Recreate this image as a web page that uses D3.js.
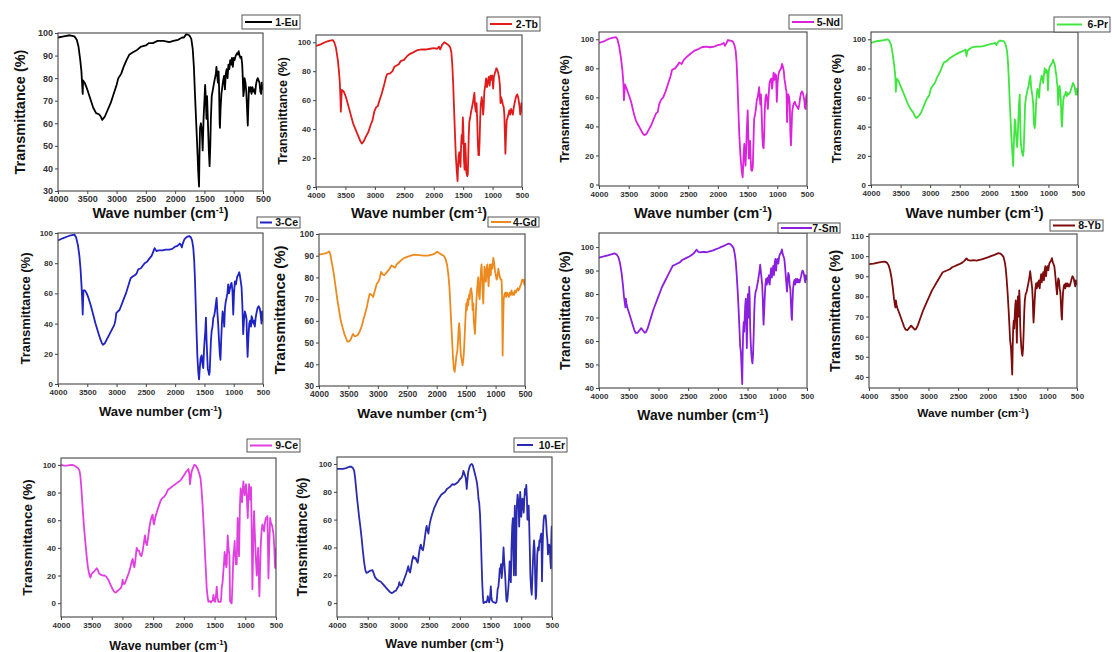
<!DOCTYPE html>
<html>
<head>
<meta charset="utf-8">
<script src="https://d3js.org/d3.v7.min.js"></script>
<style>
body { margin: 0; background: #fff; }
svg { display: block; font-family: "Liberation Sans", Arial, sans-serif; }
</style>
</head>
<body>
<div id="chart"></div>
<script>
// spectra: [wave number (cm-1), transmittance (%)]
var euData = [[4000,98],[3900,98.5],[3800,99],[3720,98.5],[3680,97],[3650,94],[3620,88],[3600,83],[3585,76],[3578,73],[3572,79],[3545,78],[3500,75],[3450,71],[3400,67],[3350,64.5],[3300,64],[3270,63],[3245,61.5],[3200,63],[3150,66],[3100,69],[3050,73],[3000,77],[2970,80],[2920,82],[2880,85],[2830,88],[2780,90.5],[2720,91.5],[2650,92.5],[2580,94],[2500,94.5],[2450,95.5],[2380,95.5],[2300,96.5],[2200,96.5],[2100,96],[2030,96.5],[1950,97],[1880,98],[1850,98],[1810,99.5],[1760,99],[1725,97.5],[1700,93],[1680,85],[1660,72],[1640,60],[1620,48],[1605,38],[1592,32],[1585,45],[1575,58],[1560,60],[1545,57],[1530,48],[1515,62],[1500,70],[1488,77],[1475,70],[1465,62],[1455,72],[1440,60],[1425,48],[1412,41],[1400,50],[1390,62],[1375,72],[1355,75],[1335,78],[1320,80],[1305,82],[1295,85],[1285,82],[1270,78],[1258,83],[1250,76],[1240,60],[1235,58],[1225,66],[1210,73],[1195,76],[1180,79],[1165,81],[1150,75],[1135,82],[1120,84],[1105,80],[1090,86],[1075,84],[1060,88],[1045,86],[1030,89],[1015,85],[1000,89],[985,88],[965,90],[945,91],[930,90.5],[915,92],[900,90],[885,89],[870,89.5],[855,86],[845,80],[835,72],[825,74],[815,80],[800,78],[785,74],[770,65],[760,59],[750,68],[740,76],[725,74],[710,76],[695,73],[680,76],[665,74],[650,75],[635,73],[620,77],[605,79],[590,80],[575,79],[560,78],[545,74],[530,73],[520,78],[510,75],[500,76]];

var tbData = [[4000,97.5],[3920,98.5],[3850,100],[3780,101],[3715,101.5],[3690,100],[3660,96],[3630,88],[3610,80],[3595,72],[3585,62],[3578,52],[3570,60],[3562,67],[3530,66],[3490,62],[3450,56],[3410,50],[3370,44],[3330,40],[3290,36],[3250,32],[3222,30],[3190,31.5],[3150,35],[3110,38],[3070,43],[3040,46],[3010,52],[2980,55],[2950,56],[2920,60],[2880,65],[2840,71],[2810,76],[2790,78],[2740,78.5],[2700,80],[2670,83],[2630,84],[2590,85],[2560,87],[2500,88],[2450,90.5],[2400,92],[2350,93],[2280,94.5],[2200,95],[2120,95],[2060,95.5],[2000,96],[1940,95.5],[1910,97],[1890,95],[1860,98],[1820,100],[1780,99],[1750,98],[1720,96.5],[1700,93],[1685,85],[1670,72],[1655,55],[1640,38],[1625,22],[1610,12],[1595,4],[1585,15],[1575,22],[1565,24],[1555,18],[1545,14],[1535,28],[1525,36],[1515,30],[1505,48],[1495,38],[1485,18],[1475,12],[1465,30],[1455,22],[1445,10],[1430,7.5],[1420,9],[1405,35],[1395,45],[1380,48],[1365,52],[1350,55],[1335,58],[1320,62],[1308,65],[1298,56],[1285,52],[1272,58],[1260,45],[1250,30],[1240,22],[1230,22],[1220,32],[1210,48],[1200,57],[1185,62],[1172,58],[1160,50],[1150,56],[1140,66],[1125,70],[1110,75],[1095,69],[1080,73],[1065,76],[1050,70],[1035,77],[1020,74],[1005,77],[990,68],[978,76],[965,78],[950,80],[935,82],[920,81],[905,79],[890,76],[875,70],[865,58],[855,62],[840,60],[825,57],[810,55],[800,50],[790,35],[782,23],[772,35],[760,46],[745,48],[730,50],[715,53],[700,50],[685,54],[670,52],[655,50],[640,55],[625,58],[610,61],[595,63],[580,64],[565,62],[550,58],[540,55],[530,50],[520,52],[510,58],[500,52]];

var ndData = [[4000,97.5],[3920,98.5],[3850,100],[3780,101],[3715,101.5],[3690,100],[3660,95],[3630,87],[3605,78],[3590,70],[3580,58],[3572,63],[3565,69],[3535,66],[3500,62],[3460,57],[3420,50],[3380,44],[3340,41],[3300,38],[3260,35],[3236,34],[3200,35],[3160,38],[3120,41],[3080,45],[3040,49],[3010,50],[2990,55],[2960,58],[2920,60],[2880,64],[2840,69],[2800,74],[2770,79],[2720,80],[2680,82],[2650,84],[2610,83],[2570,86],[2520,88],[2460,90],[2400,92],[2340,93],[2270,94.5],[2200,95],[2130,94.5],[2060,95],[2000,96],[1940,96.5],[1900,97.5],[1880,95.5],[1860,97],[1830,99.5],[1790,99],[1750,98.5],[1720,96],[1700,92],[1685,84],[1670,70],[1655,52],[1640,35],[1620,20],[1600,10],[1582,5],[1572,15],[1565,22],[1555,28],[1545,20],[1535,13],[1525,22],[1515,35],[1505,45],[1498,51],[1488,35],[1478,18],[1468,25],[1458,30],[1448,18],[1438,10],[1425,9.5],[1412,12],[1400,30],[1390,45],[1375,48],[1360,52],[1345,58],[1330,60],[1318,63],[1305,67],[1295,60],[1285,55],[1275,62],[1262,48],[1250,32],[1240,26],[1230,25],[1220,35],[1210,52],[1198,60],[1185,62],[1170,58],[1158,52],[1145,62],[1130,70],[1115,72],[1100,73],[1088,66],[1075,71],[1062,77],[1048,72],[1035,76],[1020,75],[1008,57],[995,70],[980,76],[965,78],[950,79],[935,80],[920,83],[905,81],[890,78],[878,72],[868,70],[855,66],[845,64],[835,43],[825,55],[815,62],[800,60],[790,55],[780,35],[770,27],[760,38],[750,50],[735,54],[720,56],[705,57],[690,55],[675,54],[660,53],[645,52],[630,55],[615,60],[600,63],[585,64],[570,63],[555,60],[545,58],[535,53],[525,52],[515,60],[505,62],[500,55]];

var prData = [[4000,97.5],[3920,98.5],[3850,99],[3780,99.5],[3720,100],[3690,99],[3660,96],[3630,89],[3605,81],[3590,75],[3580,64],[3572,68],[3565,73],[3530,71],[3490,67],[3450,63],[3410,59],[3370,55],[3330,52],[3290,50],[3255,47],[3228,46],[3190,47.5],[3150,50],[3110,54],[3070,58],[3040,60],[3010,62],[2990,66],[2960,68],[2920,70],[2880,74],[2840,77],[2800,81],[2770,84],[2720,85],[2670,87],[2630,88],[2590,89],[2550,90],[2500,91],[2440,92],[2400,93],[2385,88.5],[2370,92],[2330,93.5],[2290,94.5],[2230,95],[2150,95],[2080,95.5],[2000,96.5],[1940,97],[1900,97.5],[1880,96],[1860,97.5],[1830,99],[1790,99],[1750,98.5],[1720,96],[1700,92],[1685,85],[1670,73],[1655,58],[1640,45],[1625,32],[1610,22],[1596,13],[1588,25],[1578,35],[1568,45],[1558,42],[1548,35],[1538,30],[1528,26],[1518,35],[1508,45],[1498,55],[1485,62],[1475,40],[1465,28],[1455,25],[1445,22],[1430,20],[1418,24],[1405,40],[1395,55],[1380,60],[1365,63],[1350,66],[1335,68],[1320,72],[1305,75],[1295,68],[1282,64],[1270,61],[1258,56],[1245,42],[1232,39],[1220,44],[1210,55],[1198,62],[1185,66],[1170,64],[1158,60],[1145,68],[1130,72],[1115,75],[1100,74],[1088,70],[1075,76],[1062,80],[1048,77],[1035,79],[1020,78],[1008,65],[995,78],[980,81],[965,82],[950,83],[935,84],[920,86],[905,84],[890,82],[878,78],[865,75],[855,70],[845,67],[835,55],[825,62],[812,68],[800,64],[790,58],[780,45],[770,40],[760,50],[750,58],[735,61],[720,62],[705,64],[690,61],[675,63],[660,62],[645,63],[630,64],[615,66],[600,68],[585,70],[570,69],[555,67],[545,64],[535,62],[525,66],[515,65],[505,62],[500,64]];

var ceData = [[4000,95],[3920,96.5],[3850,97.5],[3780,98.5],[3720,99],[3690,97],[3660,92],[3635,85],[3615,76],[3598,65],[3585,54],[3578,46],[3572,55],[3565,62],[3540,62],[3510,60],[3480,57],[3440,52],[3400,46],[3360,40],[3320,35],[3280,30],[3250,27],[3232,26],[3200,27],[3160,30],[3120,33],[3080,36],[3040,39],[3020,42],[3005,47],[2980,48],[2950,49],[2920,52],[2880,56],[2840,60],[2800,65],[2760,70],[2730,71],[2690,72],[2660,73],[2630,76],[2590,76.5],[2560,78],[2520,80],[2480,81],[2440,83],[2400,85],[2370,88],[2350,90],[2320,88],[2280,88.5],[2220,88.5],[2160,89],[2100,89],[2050,89.5],[2000,91],[1960,91.5],[1920,93],[1900,92],[1885,90.5],[1870,93],[1840,96],[1800,97.5],[1760,98],[1730,97],[1710,95],[1690,90],[1675,82],[1662,70],[1648,52],[1635,35],[1620,18],[1605,8],[1592,3],[1580,10],[1565,17],[1548,19],[1535,14],[1520,10.5],[1508,22],[1495,30],[1485,35],[1474,44],[1464,30],[1452,18],[1442,10],[1432,8.5],[1420,6],[1410,8],[1400,18],[1390,28],[1377,35],[1362,38],[1348,44],[1335,45],[1321,48],[1305,53],[1292,57],[1280,48],[1264,39],[1250,28],[1238,20],[1226,16],[1215,28],[1202,40],[1190,48],[1175,45],[1162,38],[1150,50],[1135,55],[1122,57],[1108,60],[1094,66],[1080,60],[1065,63],[1050,66],[1037,67],[1022,62],[1008,46],[995,60],[980,68],[962,66],[950,69],[940,71],[925,72],[906,74],[895,72],[880,68],[866,64],[852,52],[838,33],[825,42],[810,48],[795,46],[781,43],[772,28],[763,18],[750,30],[735,40],[720,42],[705,38],[695,45],[680,43],[665,40],[655,42],[640,38],[625,44],[611,47],[595,50],[575,51.5],[555,50],[540,46],[525,40],[515,48],[505,42],[500,45]];

var gdData = [[4000,90.5],[3930,90.8],[3870,91.2],[3830,92],[3810,91],[3790,88],[3770,85],[3745,81],[3720,76],[3690,70],[3660,65],[3630,60],[3600,57],[3570,54],[3540,52],[3518,50.5],[3490,50.5],[3460,51.5],[3440,53],[3420,54],[3400,53],[3370,53],[3340,53.5],[3310,55],[3280,57],[3250,60],[3220,63],[3190,66],[3160,70],[3138,72.5],[3110,72],[3080,71],[3050,74],[3020,77],[2990,78],[2965,80],[2945,82.5],[2920,81.5],[2890,81],[2860,82],[2830,83],[2800,84],[2770,85.5],[2740,85],[2710,84.5],[2680,86],[2640,87],[2600,88],[2550,89],[2500,89.5],[2440,90],[2380,90.5],[2300,90.3],[2220,90],[2150,90],[2080,90.5],[2030,91],[1992,91.8],[1960,91.2],[1920,90.5],[1880,90],[1850,88.5],[1825,86],[1805,82],[1785,76],[1770,68],[1755,60],[1740,52],[1725,44],[1710,38],[1695,36.5],[1680,40],[1665,44],[1650,46],[1640,50],[1628,56],[1618,59],[1608,55],[1598,48],[1588,44],[1575,42],[1561,39.5],[1548,42],[1535,47],[1522,55],[1510,62],[1498,68],[1488,65],[1476,70],[1465,67],[1452,72],[1440,70],[1428,74],[1415,75],[1400,72],[1391,65],[1380,68],[1370,60],[1358,56],[1351,54],[1340,60],[1328,68],[1315,74],[1304,78],[1294,80],[1282,72],[1270,70],[1258,78],[1246,84],[1238,86],[1228,80],[1218,72],[1209,68],[1198,78],[1188,85],[1176,82],[1165,78],[1152,84],[1140,86],[1128,80],[1118,76],[1105,84],[1095,86],[1082,81],[1070,86],[1055,84],[1039,89],[1025,87],[1010,83],[995,81],[982,79],[968,80],[954,84],[940,82],[925,80],[910,79],[898,79],[890,72],[880,44],[872,58],[862,70],[850,72],[835,73],[820,71],[805,73],[790,72],[775,71],[760,73],[745,72],[730,74],[715,72],[700,73],[685,72],[670,74],[655,73],[640,74],[625,75],[610,74],[595,75],[580,76],[565,77],[550,79],[535,78],[520,79],[510,77],[500,76]];

var smData = [[4000,95.5],[3920,96],[3850,96.5],[3780,97],[3735,97.3],[3700,96.8],[3670,95.5],[3645,93],[3620,89],[3598,84],[3580,79],[3565,76],[3555,74.3],[3548,78],[3538,76],[3520,74],[3495,72],[3470,70],[3440,67.5],[3410,65],[3385,63.5],[3350,63.5],[3320,64.5],[3290,65.5],[3260,64.5],[3230,63.5],[3210,63.8],[3180,65.5],[3150,68],[3120,70.5],[3090,73],[3060,75],[3030,77],[3000,79],[2970,81],[2940,83],[2910,84.5],[2880,86],[2850,87.5],[2820,89],[2790,90.5],[2760,92],[2720,92.5],[2680,93],[2640,93.5],[2600,94.5],[2560,95],[2520,95.5],[2480,96],[2430,96.8],[2390,97.8],[2360,98.9],[2330,98],[2290,97.8],[2240,98],[2190,97.8],[2140,98.2],[2090,98.5],[2040,99],[1990,99.5],[1950,100],[1900,100.5],[1860,101],[1822,101.5],[1790,101.3],[1760,100.5],[1735,99.5],[1715,97],[1700,94],[1685,89],[1668,82],[1652,74],[1638,66],[1625,58],[1612,55],[1600,48],[1590,41.7],[1582,55],[1574,64],[1565,68],[1556,64],[1548,70],[1540,75],[1530,78],[1521,68],[1512,57],[1503,72],[1495,80],[1487,76],[1480,70],[1472,83],[1464,78],[1456,66],[1448,60],[1438,55],[1428,52],[1418,50.5],[1408,54],[1398,62],[1388,72],[1378,78],[1365,81],[1350,82],[1336,84],[1322,86],[1310,88],[1298,90],[1288,92.5],[1278,90],[1266,87],[1254,84],[1244,78],[1236,70],[1231,67],[1222,72],[1212,78],[1200,84],[1188,86.5],[1176,84],[1164,87],[1152,85],[1140,88],[1128,84],[1116,88],[1104,91],[1092,87],[1080,90],[1068,92],[1056,88],[1044,93],[1032,95],[1020,90],[1008,94],[996,95],[982,93],[968,96],[955,97],[940,97.5],[922,99],[908,97],[895,96],[882,95],[870,92],[858,88],[846,84],[836,81],[826,86],[815,89],[803,88],[792,84],[780,82],[770,76],[760,70],[753,69],[745,76],[735,82],[722,85],[710,86],[698,84],[686,86.5],[674,85],[662,86.5],[650,85],[638,86],[626,85],[614,86],[600,87.5],[588,89],[576,90],[564,89.5],[552,88.5],[540,86.5],[530,85],[520,88],[510,87],[500,86]];

var ybData = [[4000,96],[3920,96.3],[3850,96.8],[3780,97.2],[3735,97.3],[3700,96.8],[3670,95.5],[3645,93],[3620,89],[3598,84],[3580,79],[3565,76],[3555,74.5],[3548,78],[3538,76],[3520,74],[3495,72],[3470,70],[3440,67.5],[3410,65],[3385,63.5],[3350,63.3],[3320,64.5],[3290,65.5],[3260,64.5],[3230,63.5],[3210,63.8],[3180,65.5],[3150,68],[3120,70.5],[3090,73],[3060,75],[3030,77],[3000,79],[2970,81],[2940,83],[2910,84.5],[2880,86],[2850,87.5],[2820,89],[2790,90.5],[2760,92],[2720,92.5],[2680,93],[2640,93.5],[2600,94.5],[2560,95],[2520,95.5],[2480,96],[2430,96.8],[2390,97.8],[2360,98.9],[2330,98],[2290,97.8],[2240,98],[2190,97.8],[2140,98.2],[2090,98.5],[2040,99],[1990,99.5],[1950,100],[1900,100.5],[1860,101],[1822,101.5],[1790,101.3],[1760,100.5],[1735,99.5],[1715,97],[1700,94],[1685,89],[1668,82],[1652,74],[1638,66],[1625,58],[1612,55],[1600,48],[1590,41.2],[1582,55],[1574,64],[1565,68],[1556,64],[1548,70],[1540,75],[1530,78],[1521,68],[1512,57],[1503,72],[1495,80],[1487,76],[1480,70],[1472,83],[1464,78],[1456,66],[1448,60],[1438,55],[1428,52],[1418,50.5],[1408,54],[1398,62],[1388,72],[1378,78],[1365,81],[1350,82],[1336,84],[1322,86],[1310,88],[1298,90],[1288,92.5],[1278,90],[1266,87],[1254,84],[1244,78],[1236,70],[1231,67],[1222,72],[1212,78],[1200,84],[1188,86.5],[1176,84],[1164,87],[1152,85],[1140,88],[1128,84],[1116,88],[1104,91],[1092,87],[1080,90],[1068,92],[1056,88],[1044,93],[1032,95],[1020,90],[1008,94],[996,95],[982,93],[968,96],[955,97],[940,97.5],[922,99],[908,97],[895,96],[882,95],[870,92],[858,88],[846,84],[836,81],[826,86],[815,89],[803,88],[792,84],[780,82],[770,76],[760,70],[753,68.5],[745,76],[735,82],[722,85],[710,86],[698,84],[686,86.5],[674,85],[662,86.5],[650,85],[638,86],[626,85],[614,86],[600,87.5],[588,89],[576,90],[564,89.5],[552,88.5],[540,86.5],[530,85],[520,88],[510,87],[500,85.5]];

var ce9Data = [[4000,100],[3950,99.5],[3900,99.5],[3860,99.8],[3820,100],[3780,99.5],[3750,98.5],[3720,97.5],[3700,96],[3685,92],[3670,84],[3655,74],[3640,64],[3625,55],[3610,47],[3595,40],[3580,33],[3565,27],[3550,23],[3535,20],[3520,18.5],[3505,21],[3485,22],[3460,23],[3440,24],[3420,25.3],[3400,24],[3380,21.5],[3350,20.5],[3320,20],[3290,20],[3260,19],[3230,17],[3200,14],[3170,11],[3145,9],[3121,7.7],[3100,8],[3075,9],[3050,10],[3025,11],[3010,13],[2996,17],[2985,14],[2965,14],[2945,16],[2920,19],[2895,22],[2870,26],[2850,30],[2833,32],[2820,28],[2805,26],[2790,31],[2768,40],[2750,38],[2730,38],[2710,35],[2690,34],[2670,38],[2650,44],[2633,49],[2620,44],[2600,42],[2580,48],[2560,55],[2540,60],[2520,63],[2508,64],[2495,58],[2485,57],[2465,62],[2440,66],[2410,70],[2380,74],[2350,76],[2320,77],[2290,79],[2260,82],[2230,83],[2200,84],[2170,85],[2140,86],[2110,87],[2080,88],[2050,89],[2020,91],[1990,93],[1965,95],[1940,96],[1925,97],[1910,93],[1900,86],[1890,90],[1875,95],[1850,98],[1830,100],[1805,99.5],[1785,98],[1765,96],[1745,93],[1728,90],[1712,82],[1695,71],[1680,58],[1665,45],[1655,35],[1640,22],[1628,11],[1615,5],[1600,1],[1575,1.5],[1560,0.5],[1546,1.5],[1530,2],[1519,6],[1508,2],[1492,1],[1478,5],[1465,12],[1452,4],[1438,1],[1420,1],[1400,1],[1392,4],[1384,11],[1370,15],[1357,23],[1345,30],[1336,37],[1330,28],[1318,35],[1310,26],[1302,28],[1294,40],[1286,49],[1276,42],[1268,38],[1259,35],[1253,18],[1248,1.5],[1235,0.5],[1221,0],[1210,12],[1200,26],[1194,34],[1180,40],[1172,45],[1165,35],[1152,28],[1140,28],[1132,45],[1124,61.6],[1115,50],[1108,40],[1102,34],[1095,50],[1088,70],[1075,83],[1065,78],[1053,73],[1045,80],[1031,88],[1020,82],[1010,78],[1000,82],[988,86],[978,80],[968,70],[960,61.6],[950,75],[938,86],[930,80],[922,75],[914,82],[906,84],[895,50],[884,10],[876,30],[868,50],[857,66.6],[846,52],[835,40],[825,30],[813,20],[802,28],[791,40],[780,20],[770,5],[760,22],[748,42],[735,52],[721,57],[708,55],[694,52],[680,58],[666,61.6],[653,62],[640,63],[632,45],[623,18],[610,40],[596,61.6],[583,58],[569,57],[555,54],[541,50],[528,40],[520,30],[514,25.5],[508,35],[500,40]];

var er10Data = [[4000,96.5],[3950,96.5],[3900,96.5],[3850,97],[3800,98],[3766,98],[3740,97],[3720,95],[3705,90],[3690,83],[3675,76],[3660,70],[3640,62],[3620,55],[3600,47],[3580,38],[3560,30],[3540,24],[3521,21.7],[3500,22],[3470,23],[3440,23.5],[3420,23.6],[3400,21],[3380,18.5],[3350,17],[3320,16],[3290,15.5],[3260,14],[3230,12.5],[3200,11],[3170,9.5],[3140,8],[3113,7.2],[3090,7.5],[3065,8.5],[3040,9],[3015,11],[3000,12],[2985,15],[2970,13],[2950,12.5],[2925,15],[2900,18],[2875,21],[2855,24],[2840,26.5],[2825,23],[2810,22],[2790,27],[2775,31],[2759,33.7],[2740,32],[2720,32.5],[2700,30],[2685,29],[2670,34],[2650,40],[2635,42],[2620,39],[2600,38],[2585,42],[2570,47],[2555,52],[2541,55.4],[2525,52],[2512,50],[2495,56],[2475,60],[2450,64],[2420,68],[2390,71],[2360,74],[2330,76],[2300,78],[2270,79],[2240,80],[2210,82],[2180,83],[2150,84],[2120,85.5],[2090,85],[2060,86],[2030,87],[2000,89],[1975,90],[1955,92],[1942,95],[1925,93],[1905,90],[1895,86],[1888,82],[1878,88],[1865,94],[1845,97.5],[1825,99.5],[1806,100],[1790,99],[1772,96],[1755,93],[1738,90],[1720,86],[1705,80],[1697,75],[1685,72],[1672,64],[1660,50],[1648,32],[1636,15],[1625,5],[1616,0],[1600,0.5],[1585,1],[1570,0.5],[1555,2],[1545,5],[1535,2],[1522,0.5],[1510,3],[1502,8],[1496,12],[1488,5],[1478,2],[1465,1],[1450,0.5],[1435,0.5],[1420,0],[1405,0.5],[1395,4],[1385,10],[1372,12],[1360,18],[1350,25],[1340,22],[1330,28],[1320,18],[1310,22],[1300,30],[1289,40],[1280,32],[1270,25],[1260,18],[1250,8],[1242,2],[1235,1],[1225,3],[1212,10],[1200,18],[1190,30],[1180,22],[1170,15],[1160,38],[1148,55],[1137,61],[1128,35],[1120,20],[1112,50],[1105,70],[1095,45],[1088,20],[1080,52],[1070,72],[1060,78],[1050,74],[1042,70],[1035,55],[1028,65],[1018,80],[1008,72],[1000,62],[990,70],[980,75],[970,72],[960,65],[950,75],[940,82],[930,78],[919,85],[908,75],[900,60],[890,68],[880,70],[870,55],[862,40],[852,20],[840,10],[830,6],[820,18],[810,30],[800,40],[792,45],[782,38],[772,15],[765,3],[758,5],[748,20],[740,35],[728,40],[715,38],[705,45],[695,44],[685,48],[675,50],[668,35],[663,15.7],[655,35],[645,52],[635,60],[625,63],[615,62],[605,63],[595,58],[585,50],[575,45],[565,35],[555,40],[545,42],[535,38],[525,30],[518,25],[512,45],[505,55],[500,45]];

// tick labels
var waveTicks = [4000, 3500, 3000, 2500, 2000, 1500, 1000, 500];
var ticks30to100 = [30, 40, 50, 60, 70, 80, 90, 100];
var ticks0to100 = [0, 20, 40, 60, 80, 100];
var ticks40to100 = [40, 50, 60, 70, 80, 90, 100];
var ticks40to110 = [40, 50, 60, 70, 80, 90, 100, 110];

// layout of each small panel: frame box [x0,y0,x1,y1], legend box, title positions
var panels = [
    {label: "1-Eu", data: euData, color: "#000000", box: [58, 33, 263, 191], yDom: [30, 100], yTicks: ticks30to100,
     yTitleX: 20, yFont: 14.5, xTitleY: 218, xFont: 14.4, tickFont: 9, legend: [242, 15, 300, 29]},
    {label: "2-Tb", data: tbData, color: "#e11b1b", box: [316, 35, 522, 187], yDom: [0, 105], yTicks: ticks0to100,
     yTitleX: 283, yFont: 12.5, xTitleY: 218, xFont: 14.4, tickFont: 8, legend: [487, 17, 540, 31]},
    {label: "5-Nd", data: ndData, color: "#dc22dc", box: [599, 32, 807, 186], yDom: [-1, 105], yTicks: ticks0to100,
     yTitleX: 565, yFont: 12.5, xTitleY: 218, xFont: 14.6, tickFont: 8, legend: [789, 15, 842, 29]},
    {label: "6-Pr", data: prData, color: "#3ee63e", box: [871, 32, 1078, 185], yDom: [0, 105], yTicks: ticks0to100,
     yTitleX: 837, yFont: 12.7, xTitleY: 218, xFont: 14.6, tickFont: 8, legend: [1054, 17, 1110, 32]},
    {label: "3-Ce", data: ceData, color: "#1f22c4", box: [58, 233, 263, 384], yDom: [0, 100], yTicks: ticks0to100,
     yTitleX: 25, yFont: 13, xTitleY: 416, xFont: 13, tickFont: 8, legend: [257, 217, 300, 228]},
    {label: "4-Gd", data: gdData, color: "#ec8a1e", box: [319, 234, 525, 386], yDom: [30, 100], yTicks: ticks30to100,
     yTitleX: 280, yFont: 15, xTitleY: 418, xFont: 13.7, tickFont: 8.5, legend: [488, 217, 539, 227]},
    {label: "7-Sm", data: smData, color: "#8a1fe0", box: [599, 233, 807, 388], yDom: [40, 106], yTicks: ticks40to100,
     yTitleX: 565, yFont: 13.8, xTitleY: 420, xFont: 13.9, tickFont: 8, legend: [778, 223, 840, 233]},
    {label: "8-Yb", data: ybData, color: "#7d0c0c", box: [869, 234, 1077, 388], yDom: [34.5, 111], yTicks: ticks40to110,
     yTitleX: 835, yFont: 14.2, xTitleY: 417, xFont: 11.8, tickFont: 8, legend: [1050, 220, 1103, 231]},
    {label: "9-Ce", data: ce9Data, color: "#e040e0", box: [61, 458, 276, 617], yDom: [-10, 105], yTicks: ticks0to100,
     yTitleX: 27, yFont: 13.5, xTitleY: 650, xFont: 12.5, tickFont: 8, legend: [247, 439, 300, 452]},
    {label: "10-Er", data: er10Data, color: "#2b2bb0", box: [337, 457, 552, 617], yDom: [-10, 105], yTicks: ticks0to100,
     yTitleX: 302, yFont: 13.8, xTitleY: 648, xFont: 12.5, tickFont: 8, legend: [514, 438, 567, 452]}
];

var svg = d3.select("#chart").append("svg")
    .attr("width", 1112)
    .attr("height", 652);

svg.append("rect").attr("width", 1112).attr("height", 652).attr("fill", "#fff");

panels.forEach(function(p, i) {
    var x0 = p.box[0], y0 = p.box[1], x1 = p.box[2], y1 = p.box[3];

    var x = d3.scaleLinear().domain([4000, 500]).range([x0, x1]);
    var y = d3.scaleLinear().domain(p.yDom).range([y1, y0]);

    var g = svg.append("g").attr("class", "panel");

    g.append("clipPath").attr("id", "clip" + i)
      .append("rect")
        .attr("x", x0).attr("y", y0)
        .attr("width", x1 - x0).attr("height", y1 - y0);

    // spectrum line
    var line = d3.line()
        .x(function(d) { return x(d[0]); })
        .y(function(d) { return y(d[1]); });

    g.append("path")
        .datum(p.data)
        .attr("clip-path", "url(#clip" + i + ")")
        .attr("fill", "none")
        .attr("stroke", p.color)
        .attr("stroke-width", 1.8)
        .attr("stroke-linejoin", "round")
        .attr("d", line);

    // frame
    g.append("rect")
        .attr("x", x0).attr("y", y0)
        .attr("width", x1 - x0).attr("height", y1 - y0)
        .attr("fill", "none")
        .attr("stroke", "#444")
        .attr("stroke-width", 1.1);

    // axes
    var xAxis = g.append("g")
        .attr("transform", "translate(0," + y1 + ")")
        .call(d3.axisBottom(x).tickValues(waveTicks).tickSize(3).tickPadding(2).tickFormat(d3.format("d")));
    var yAxis = g.append("g")
        .attr("transform", "translate(" + x0 + ",0)")
        .call(d3.axisLeft(y).tickValues(p.yTicks).tickSize(3).tickPadding(2).tickFormat(d3.format("d")));

    [xAxis, yAxis].forEach(function(a) {
        a.select(".domain").remove();
        a.selectAll(".tick line").attr("stroke", "#444");
        a.selectAll(".tick text")
            .attr("fill", "#333")
            .style("font-family", "'Liberation Sans', Arial, sans-serif")
            .style("font-weight", "bold")
            .style("font-size", p.tickFont + "px");
    });

    // axis titles
    var xt = g.append("text")
        .attr("x", (x0 + x1) / 2)
        .attr("y", p.xTitleY)
        .attr("text-anchor", "middle")
        .style("font-weight", "bold")
        .style("font-size", p.xFont + "px")
        .attr("fill", "#111");
    xt.append("tspan").text("Wave number (cm");
    xt.append("tspan").attr("dy", -p.xFont * 0.38).style("font-size", (p.xFont * 0.62) + "px").text("-1");
    xt.append("tspan").attr("dy", p.xFont * 0.38).text(")");

    g.append("text")
        .attr("transform", "translate(" + p.yTitleX + "," + ((y0 + y1) / 2) + ") rotate(-90)")
        .attr("text-anchor", "middle")
        .attr("dy", "0.35em")
        .style("font-weight", "bold")
        .style("font-size", p.yFont + "px")
        .attr("fill", "#111")
        .text("Transmittance (%)");

    // legend
    var L = p.legend;
    var lg = g.append("g");
    lg.append("rect")
        .attr("x", L[0]).attr("y", L[1])
        .attr("width", L[2] - L[0]).attr("height", L[3] - L[1])
        .attr("fill", "#fff")
        .attr("stroke", "#555")
        .attr("stroke-width", 1);
    var midY = (L[1] + L[3]) / 2;
    var textW = p.label.length * 6;
    lg.append("line")
        .attr("x1", L[0] + 3).attr("x2", L[2] - textW - 4)
        .attr("y1", midY).attr("y2", midY)
        .attr("stroke", p.color)
        .attr("stroke-width", 2);
    lg.append("text")
        .attr("x", L[2] - 2)
        .attr("y", midY)
        .attr("dy", "0.35em")
        .attr("text-anchor", "end")
        .style("font-weight", "bold")
        .style("font-size", "10.5px")
        .attr("fill", "#111")
        .text(p.label);
});
</script>
</body>
</html>
